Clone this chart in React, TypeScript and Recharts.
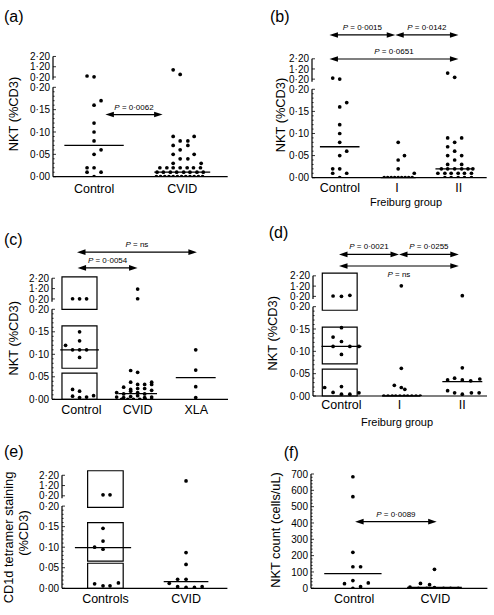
import React from 'react';
import { ScatterChart, Scatter, XAxis, YAxis, ReferenceLine, ReferenceArea } from 'recharts';

type Pt = [number, number];
type Arrow = { from: number; to: number; at: number; p: string; below?: boolean };
type Box = [number, number, number, number];
type Tick = { v: number; label?: string };

const FONT = '"Liberation Sans", Arial, Helvetica, sans-serif';
const Y_W = 45;
const X_H = 26;
const SLOT_PX = 7;

const dec = (v: number) => v.toFixed(2).replace('.', '\u00b7');

// NKT axis is broken: 0-0.20 linear, then 0.20-2.20 squeezed on top
function brokenAxis(step: number) {
  const upper = (v: number) => 0.2 + step + (v - 0.2) * step;
  const scale = (v: number) => (v > 0.2 ? upper(v) : v);
  const ticks: Tick[] = [];
  for (let i = 0; i <= 20; i++) ticks.push({ v: i / 100, label: i % 5 === 0 ? dec(i / 100) : undefined });
  [0.2, 1.2, 2.2].forEach((v) => ticks.push({ v: upper(v), label: dec(v) }));
  const axis: [number, number][] = [[0, 0.2], [upper(0.2) - 0.006, upper(2.2)]];
  return { scale, ticks, axis };
}
const nkt = brokenAxis(0.023);
const nktE = brokenAxis(0.025);

const countTicks: Tick[] = [];
for (let i = 0; i <= 35; i++) countTicks.push({ v: i * 20, label: i % 5 === 0 ? String(i * 20) : undefined });
const count = { scale: (v: number) => v, ticks: countTicks, axis: [[0, 700]] as [number, number][] };

const catsA = ['Control', 'CVID'];
const catsB = ['Control', 'I', 'II'];
const catsC = ['Control', 'CVID', 'XLA'];
const catsE = ['Controls', 'CVID'];

// group centres (x units) and label positions
const atA = [0.47, 1.48];
const atB = [0.476, 1.48, 2.45];
const labB = [0.48, 1.46, 2.52];
const atC = [0.47, 1.46, 2.45];
const labC = [0.5, 1.46, 2.46];
const atD = [0.49, 1.52, 2.57];
const labD = [0.49, 1.49, 2.57];
const atE = [0.496, 1.5];
const labE = [0.525, 1.5];
const atF = [0.475, 1.4];
const labF = [0.49, 1.41];

// points: [jitter slot, value]
const ctrlA: Pt[] = [
  [-1, 0.3], [0, 0.22],
  [1, 0.17], [0, 0.16], [0, 0.12], [0, 0.1], [0, 0.08], [1, 0.06], [0, 0.05],
  [-1, 0.02], [0, 0.02], [-1, 0.01], [1, 0.01], [0, 0],
];
const cvidA: Pt[] = [
  [-1.3, 0.9], [-0.3, 0.45],
  [-1.3, 0.09], [1.7, 0.09], [-0.3, 0.08], [0.8, 0.08], [-1.3, 0.07], [0.8, 0.07], [-0.3, 0.06],
  [-1.3, 0.05], [1.7, 0.05], [-0.3, 0.04], [0.8, 0.04], [-1.3, 0.03], [2.7, 0.03],
  [-3.2, 0.02], [-2.2, 0.02], [-1.3, 0.02], [-0.3, 0.02], [0.7, 0.02], [1.6, 0.02], [2.6, 0.02],
  [-3.6, 0.01], [-2.7, 0.01], [-1.7, 0.01], [-0.8, 0.01], [0.2, 0.01], [1.1, 0.01], [2.1, 0.01], [3, 0.01],
  [-3.7, 0], [-3.1, 0], [-2.5, 0], [-1.9, 0], [-1.3, 0], [-0.7, 0], [-0.1, 0], [0.5, 0], [1.1, 0],
  [1.7, 0], [2.3, 0], [2.9, 0],
];
const medA = [0.07, 0.01];

const ctrlB: Pt[] = [
  [-1, 0.3], [0, 0.21],
  [1, 0.17], [0, 0.16], [0, 0.12], [0, 0.1], [0, 0.08], [1, 0.06], [0, 0.05],
  [-1, 0.02], [0, 0.02], [-1, 0.01], [1, 0.01], [0, 0],
];
const grpIB: Pt[] = [
  [0, 0.08], [0.9, 0.05], [0, 0.04], [0, 0.02], [2.3, 0.01],
  [-2, 0], [-1.5, 0], [-1, 0], [-0.5, 0], [0, 0], [0.5, 0], [1, 0], [1.5, 0], [2, 0],
];
const grpIIB: Pt[] = [
  [-1, 0.8], [0, 0.38],
  [-1, 0.09], [1, 0.09], [0, 0.08], [-1, 0.07], [0, 0.06], [-1, 0.05], [1, 0.05], [0, 0.04],
  [-1, 0.03], [1, 0.03],
  [-1.9, 0.02], [-1, 0.02], [0, 0.02], [1, 0.02], [1.9, 0.02], [2.6, 0.02],
  [-2.4, 0.01], [-1.4, 0.01], [-0.5, 0.01], [0.5, 0.01], [1.4, 0.01], [2.4, 0.01],
  [-1.4, 0], [-0.5, 0], [0.5, 0], [1.4, 0], [2.4, 0],
];
const medB = [0.07, 0, 0.02];

const ctrlC: Pt[] = [
  [-1, 0.22], [0, 0.21], [1, 0.215],
  [0, 0.15], [0, 0.13], [-2, 0.12], [-1, 0.11], [0, 0.11], [1, 0.11], [0, 0.093],
  [-1, 0.022], [0, 0.018], [-1, 0.007], [0, 0.004], [1, 0.005], [2, 0.008],
];
const cvidC: Pt[] = [
  [0, 1.15], [0, 0.22],
  [-1, 0.064], [0, 0.06],
  [-1, 0.038], [2, 0.038], [2, 0.033], [0, 0.033], [1, 0.033],
  [-2, 0.027], [-1, 0.022], [0, 0.024], [1, 0.024], [2, 0.02],
  [-3, 0.015], [-2, 0.012], [-1, 0.018], [0, 0.015], [1, 0.012],
  [-3, 0.005], [-2, 0.004], [-1, 0.006], [0, 0.008], [1, 0.004], [2, 0.005],
  [-2.3, 0], [-1.4, 0], [-0.6, 0], [0.3, 0], [1.1, 0], [2, 0],
];
const xlaC: Pt[] = [[0, 0.11], [0, 0.065], [0, 0.028], [0, 0.004]];
const medC = [0.11, 0.0125, 0.048];

const ctrlD: Pt[] = [
  [-1.2, 0.24], [0, 0.21], [1.2, 0.3],
  [0, 0.153], [-1.2, 0.132], [0, 0.122], [-1.2, 0.111], [1.2, 0.111], [2.5, 0.111], [0, 0.093],
  [-2.4, 0.019], [-1.2, 0.008], [0, 0.021], [0, 0.004], [1.2, 0.004], [2.5, 0.007],
];
const grpID: Pt[] = [
  [0, 1.23], [0, 0.062],
  [-1, 0.024], [0, 0.019], [0.5, 0.015],
  [-2.5, 0], [-1.9, 0], [-1.3, 0], [-0.8, 0], [-0.2, 0], [0.4, 0], [0.9, 0], [1.5, 0], [2.1, 0], [2.7, 0],
];
const grpIID: Pt[] = [
  [0, 0.27], [0, 0.063],
  [-2.1, 0.036], [-1.1, 0.04], [0, 0.036], [1.2, 0.034], [2.5, 0.038],
  [-2.1, 0.012], [-1.1, 0.007], [0, 0.004], [1.3, 0.007], [2.4, 0.007],
];
const medD = [0.111, 0, 0.032];

const ctrlE: Pt[] = [
  [0, 0.3], [1, 0.3],
  [0, 0.146], [0, 0.115], [-1.2, 0.1], [0, 0.095],
  [-1.2, 0.011], [0, 0.006], [1, 0.006], [2.2, 0.013],
];
const cvidE: Pt[] = [
  [0, 1.65], [0, 0.087], [0, 0.058],
  [-1.2, 0.022], [0, 0.022],
  [-2.4, 0.012], [-1.2, 0.004], [0, 0.002], [1.2, 0.002], [2.3, 0.004],
];
const medE = [0.099, 0.016];

const ctrlF: Pt[] = [
  [0, 683], [0, 561], [0, 220], [0, 132], [1.1, 132], [0, 47], [-1.2, 28], [2.2, 33], [1.1, 10], [0, 0],
];
const cvidF: Pt[] = [
  [0, 116], [-2, 30], [-0.7, 22], [-3.5, 7], [-2.3, 0], [-1.1, 0], [0, 4], [1.3, 0], [2.3, 0], [3.4, 0],
];
const medF = [90, 5];

const arrowsA: Arrow[] = [{ from: 0.6, to: 1.255, at: 0.139, p: '0\u00b70062' }];
const arrowsB: Arrow[] = [
  { from: 0.3, to: 1.43, at: 0.323, p: '0\u00b70015' },
  { from: 1.43, to: 2.515, at: 0.323, p: '0\u00b70142' },
  { from: 0.3, to: 2.515, at: 0.2686, p: '0\u00b70651' },
];
const arrowsC: Arrow[] = [
  { from: 0.426, to: 2.47, at: 0.327, p: 'ns' },
  { from: 0.436, to: 1.458, at: 0.292, p: '0\u00b70054' },
];
const arrowsD: Arrow[] = [
  { from: 0.447, to: 1.48, at: 0.317, p: '0\u00b70021' },
  { from: 1.48, to: 2.51, at: 0.317, p: '0\u00b70255' },
  { from: 0.447, to: 2.51, at: 0.291, p: 'ns', below: true },
];
const arrowsF: Arrow[] = [{ from: 0.5, to: 1.425, at: 408, p: '0\u00b70089' }];

// boxes drawn around the control groups: [x1, x2, y1, y2] in axis units
const boxesC: Box[] = [[0.17, 0.767, 0.2, 0.272], [0.17, 0.767, 0.069, 0.163], [0.17, 0.767, 0, 0.058]];
const boxesD: Box[] = [[0.16, 0.76, 0.192, 0.275], [0.16, 0.76, 0.072, 0.154], [0.16, 0.76, 0, 0.06]];
const boxesE: Box[] = [[0.31, 0.74, 0.197, 0.286], [0.31, 0.74, 0.066, 0.16], [0.31, 0.74, 0, 0.061]];

type Group = { at: number; pts: Pt[]; med: number; half: number };
type AxisSet = { scale: (v: number) => number; ticks: Tick[]; axis: [number, number][] };
type PanelCfg = {
  left: number; right: number; zeroY: number; topY: number; ppu: number; xMax: number; catGap: number;
  cats: string[]; catAt: number[]; y: AxisSet; groups: Group[]; arrows: Arrow[]; boxes: Box[];
};

const panels: PanelCfg[] = [
  {
    left: 53.3, right: 228, zeroY: 176.7, topY: 50, ppu: 447, xMax: 2, catGap: 7.5,
    cats: catsA, catAt: atA, y: nkt,
    groups: [
      { at: atA[0], pts: ctrlA, med: medA[0], half: 0.34 },
      { at: atA[1], pts: cvidA, med: medA[1], half: 0.32 },
    ],
    arrows: arrowsA, boxes: [],
  },
  {
    left: 312.3, right: 487, zeroY: 177.7, topY: 15, ppu: 442, xMax: 3, catGap: 5.5,
    cats: catsB, catAt: labB, y: nkt,
    groups: [
      { at: atB[0], pts: ctrlB, med: medB[0], half: 0.34 },
      { at: atB[1], pts: grpIB, med: medB[1], half: 0.3 },
      { at: atB[2], pts: grpIIB, med: medB[2], half: 0.33 },
    ],
    arrows: arrowsB, boxes: [],
  },
  {
    left: 51.7, right: 227.7, zeroY: 399.3, topY: 235, ppu: 450, xMax: 3, catGap: 5.5,
    cats: catsC, catAt: labC, y: nkt,
    groups: [
      { at: atC[0], pts: ctrlC, med: medC[0], half: 0.33 },
      { at: atC[1], pts: cvidC, med: medC[1], half: 0.33 },
      { at: atC[2], pts: xlaC, med: medC[2], half: 0.34 },
    ],
    arrows: arrowsC, boxes: boxesC,
  },
  {
    left: 312.7, right: 487, zeroY: 396, topY: 240, ppu: 446.7, xMax: 3, catGap: 4,
    cats: catsB, catAt: labD, y: nkt,
    groups: [
      { at: atD[0], pts: ctrlD, med: medD[0], half: 0.344 },
      { at: atD[1], pts: grpID, med: medD[1], half: 0.33 },
      { at: atD[2], pts: grpIID, med: medD[2], half: 0.344 },
    ],
    arrows: arrowsD, boxes: boxesD,
  },
  {
    left: 62.3, right: 227.7, zeroY: 588.3, topY: 465, ppu: 411, xMax: 2, catGap: 6,
    cats: catsE, catAt: labE, y: nktE,
    groups: [
      { at: atE[0], pts: ctrlE, med: medE[0], half: 0.34 },
      { at: atE[1], pts: cvidE, med: medE[1], half: 0.27 },
    ],
    arrows: [], boxes: boxesE,
  },
  {
    left: 311.3, right: 487.7, zeroY: 588.3, topY: 470, ppu: 0.1633, xMax: 2, catGap: 6,
    cats: catsA, catAt: labF, y: count,
    groups: [
      { at: atF[0], pts: ctrlF, med: medF[0], half: 0.325 },
      { at: atF[1], pts: cvidF, med: medF[1], half: 0.31 },
    ],
    arrows: arrowsF, boxes: [],
  },
];

const letters = [
  { t: '(a)', x: 4, y: 21.6 },
  { t: '(b)', x: 270, y: 21.6 },
  { t: '(c)', x: 4, y: 245 },
  { t: '(d)', x: 268.7, y: 238.3 },
  { t: '(e)', x: 4, y: 456.6 },
  { t: '(f)', x: 283.7, y: 457.6 },
];
const yTitles = [
  { t: 'NKT (%CD3)', x: 13.3, y: 114 },
  { t: 'NKT (%CD3)', x: 280.3, y: 115 },
  { t: 'NKT (%CD3)', x: 13.3, y: 338.3 },
  { t: 'NKT (%CD3)', x: 272.7, y: 333.3 },
  { t: 'CD1d tetramer staining', x: 8.3, y: 537.5 },
  { t: '(%CD3)', x: 23.3, y: 533 },
  { t: 'NKT count (cells/uL)', x: 275.3, y: 530 },
];
const xTitles = [
  { t: 'Freiburg group', x: 406, y: 206 },
  { t: 'Freiburg group', x: 397, y: 425.7 },
];

const YTick = (props: any) => {
  const { x, y, payload, labels } = props;
  const ax = x + 3;
  const lab = labels.get(Number(payload.value).toFixed(5));
  return (
    <g>
      <line x1={ax} x2={ax + (lab ? 3 : 1.6)} y1={y} y2={y} stroke="#000" strokeWidth={0.8} />
      {lab && (
        <text x={x} y={y} dy="0.36em" textAnchor="end" fontSize={10} fontFamily={FONT} fill="#000">
          {lab}
        </text>
      )}
    </g>
  );
};

const arrowShape = (a: Arrow) => (p: any) => {
  const l = Math.min(p.x1, p.x2);
  const r = Math.max(p.x1, p.x2);
  const y = p.y1;
  const h = 8.5;
  const w = 2.8;
  return (
    <g>
      <line x1={l + h - 1} x2={r - h + 1} y1={y} y2={y} stroke="#000" strokeWidth={1.2} />
      <polygon points={`${l},${y} ${l + h},${y - w} ${l + h},${y + w}`} fill="#000" />
      <polygon points={`${r},${y} ${r - h},${y - w} ${r - h},${y + w}`} fill="#000" />
      <text x={(l + r) / 2} y={a.below ? y + 10.5 : y - 5} textAnchor="middle" fontSize={8} fontFamily={FONT} fill="#000">
        <tspan fontStyle="italic">P</tspan>
        {' = ' + a.p}
      </text>
    </g>
  );
};

const dot = (p: any) => <circle cx={p.cx} cy={p.cy} r={1.85} fill="#000" />;

function Panel({ cfg }: { cfg: PanelCfg }) {
  const plotW = cfg.right - cfg.left;
  const plotH = cfg.zeroY - cfg.topY;
  const yTop = plotH / cfg.ppu;
  const slot = SLOT_PX / (plotW / cfg.xMax);
  const labels = new Map(cfg.y.ticks.filter((t) => t.label).map((t) => [t.v.toFixed(5), t.label]));
  const s = cfg.y.scale;
  return (
    <div style={{ position: 'absolute', left: cfg.left - Y_W, top: cfg.topY }}>
      <ScatterChart width={Y_W + plotW} height={plotH + X_H} margin={{ top: 0, right: 0, bottom: 0, left: 0 }}>
        <XAxis
          type="number"
          dataKey="x"
          domain={[0, cfg.xMax]}
          ticks={cfg.catAt}
          interval={0}
          tickFormatter={(v: number, i: number) => cfg.cats[i]}
          height={X_H}
          axisLine={{ stroke: '#000', strokeWidth: 1.2 }}
          tickLine={false}
          tickSize={0}
          tickMargin={cfg.catGap}
          tick={{ fill: '#000', fontSize: 12.5, fontFamily: FONT }}
          allowDataOverflow
        />
        <YAxis
          type="number"
          dataKey="y"
          domain={[0, yTop]}
          ticks={cfg.y.ticks.map((t) => t.v)}
          interval={0}
          width={Y_W}
          axisLine={false}
          tickLine={false}
          tickSize={0}
          tickMargin={3}
          tick={(p: any) => <YTick {...p} labels={labels} />}
          allowDataOverflow
        />
        {cfg.y.axis.map(([a, b], i) => (
          <ReferenceLine key={'ax' + i} segment={[{ x: 0, y: a }, { x: 0, y: b }]} stroke="#000" strokeWidth={1.2} ifOverflow="visible" />
        ))}
        {cfg.boxes.map(([x1, x2, y1, y2], i) => (
          <ReferenceArea key={'bx' + i} x1={x1} x2={x2} y1={y1} y2={y2} fill="none" stroke="#000" strokeWidth={1.2} ifOverflow="visible" />
        ))}
        {cfg.groups.map((g, i) => (
          <ReferenceLine
            key={'md' + i}
            segment={[{ x: g.at - g.half, y: s(g.med) }, { x: g.at + g.half, y: s(g.med) }]}
            stroke="#000"
            strokeWidth={1.3}
            ifOverflow="visible"
          />
        ))}
        {cfg.arrows.map((a, i) => (
          <ReferenceLine
            key={'ar' + i}
            segment={[{ x: a.from, y: a.at }, { x: a.to, y: a.at }]}
            shape={arrowShape(a)}
            ifOverflow="visible"
          />
        ))}
        {cfg.groups.map((g, i) => (
          <Scatter
            key={'sc' + i}
            data={g.pts.map(([k, v]) => ({ x: g.at + k * slot, y: s(v) }))}
            shape={dot}
            isAnimationActive={false}
          />
        ))}
      </ScatterChart>
    </div>
  );
}

export default function App() {
  return (
    <div style={{ position: 'absolute', left: 0, top: 0, width: 494, height: 615, background: '#fff', overflow: 'hidden' }}>
      <svg width={494} height={615} style={{ position: 'absolute', left: 0, top: 0 }}>
        {letters.map((l) => (
          <text key={l.t} x={l.x} y={l.y} fontSize={16} fontFamily={FONT} fill="#000">{l.t}</text>
        ))}
        {yTitles.map((t, i) => (
          <text
            key={'yt' + i}
            x={t.x}
            y={t.y}
            dy="0.35em"
            transform={`rotate(-90 ${t.x} ${t.y})`}
            textAnchor="middle"
            fontSize={12.8}
            fontFamily={FONT}
            fill="#000"
          >
            {t.t}
          </text>
        ))}
        {xTitles.map((t, i) => (
          <text key={'xt' + i} x={t.x} y={t.y} textAnchor="middle" fontSize={11} fontFamily={FONT} fill="#000">{t.t}</text>
        ))}
      </svg>
      {panels.map((p, i) => (
        <Panel key={i} cfg={p} />
      ))}
    </div>
  );
}
